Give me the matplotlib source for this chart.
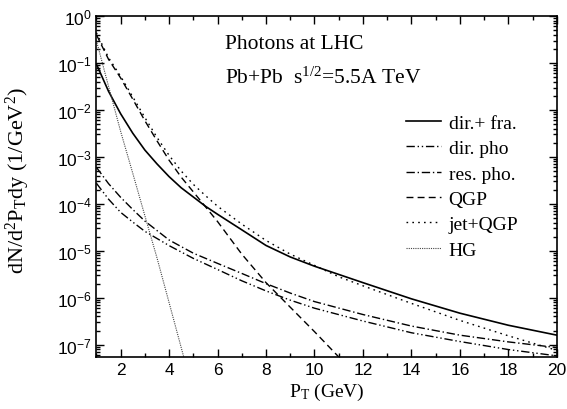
import matplotlib
matplotlib.use('Agg')
import matplotlib.pyplot as plt
from matplotlib.ticker import MultipleLocator, LogLocator, NullFormatter

plt.rcParams['font.family'] = ['Liberation Serif', 'DejaVu Serif']
plt.rcParams['mathtext.fontset'] = 'custom'
plt.rcParams['mathtext.rm'] = 'Liberation Serif'
plt.rcParams['mathtext.it'] = 'Liberation Serif:italic'

# dir. + fragmentation photons
pt_dirfra = [1, 1.5, 2, 2.5, 3, 3.5, 4, 4.5, 5, 5.5, 6, 7, 8, 9, 10, 12, 14, 16, 18, 20]
y_dirfra = [9.5e-2, 2.5e-2, 8.3e-3, 3.2e-3, 1.4e-3, 7.1e-4, 3.8e-4, 2.2e-4, 1.4e-4, 8.9e-5,
            6.0e-5, 2.8e-5, 1.3e-5, 7.4e-6, 4.7e-6, 2.1e-6, 9.5e-7, 4.7e-7, 2.6e-7, 1.6e-7]

# direct and resonance photons
pt_pho = [1, 1.5, 2, 2.5, 3, 4, 5, 6, 7, 8, 9, 10, 12, 14, 16, 18, 20]
y_dirpho = [2.75e-4, 1.26e-4, 6.6e-5, 4.1e-5, 2.6e-5, 1.29e-5, 6.9e-6, 4.0e-6, 2.3e-6, 1.4e-6,
            8.9e-7, 6.0e-7, 3.2e-7, 1.8e-7, 1.17e-7, 7.9e-8, 5.8e-8]
y_respho = [6.0e-4, 2.7e-4, 1.38e-4, 7.6e-5, 4.3e-5, 1.7e-5, 8.9e-6, 5.4e-6, 3.3e-6, 2.0e-6,
            1.26e-6, 8.3e-7, 4.4e-7, 2.5e-7, 1.6e-7, 1.15e-7, 8.7e-8]

# thermal QGP
pt_qgp = [1, 1.5, 2, 2.5, 3, 3.5, 4, 4.5, 5, 5.5, 6, 7, 8, 9, 10, 11]
y_qgp = [0.40, 0.12, 0.048, 0.017, 5.9e-3, 2.2e-3, 8.5e-4, 3.7e-4, 1.8e-4, 8.7e-5, 4.2e-5,
         8.5e-6, 2.1e-6, 6.3e-7, 1.9e-7, 5.5e-8]

# jet + QGP
pt_jet = [1, 1.5, 2, 2.5, 3, 3.5, 4, 4.5, 5, 5.5, 6, 7, 8, 9, 10, 11, 12, 14, 16, 18, 20]
y_jet = [0.44, 0.13, 0.052, 0.019, 6.9e-3, 2.6e-3, 1.08e-3, 5.0e-4, 2.6e-4, 1.5e-4, 8.9e-5,
         3.7e-5, 1.66e-5, 8.5e-6, 4.9e-6, 2.8e-6, 1.8e-6, 7.6e-7, 3.3e-7, 1.55e-7, 7.6e-8]

# hadron gas
pt_hg = [1, 1.5, 2, 2.5, 3, 3.5, 4, 4.6]
y_hg = [0.30, 3.2e-2, 3.5e-3, 4.5e-4, 5.6e-5, 7.1e-6, 7.9e-7, 5.6e-8]

# axis ticks
x_ticks = [2, 4, 6, 8, 10, 12, 14, 16, 18, 20]
y_ticks = [1e-7, 1e-6, 1e-5, 1e-4, 1e-3, 1e-2, 1e-1, 1]

fig = plt.figure(figsize=(5.67, 4.10), dpi=100)
ax = fig.add_axes([0.170, 0.127, 0.812, 0.8315])

ax.plot(pt_dirfra, y_dirfra, color='black', lw=1.2, label='dir.+ fra.')
ax.plot(pt_pho, y_dirpho, color='black', lw=1.0, ls=(0, (6, 2, 1, 2, 1, 2)), label='dir. pho')
ax.plot(pt_pho, y_respho, color='black', lw=1.0, ls=(0, (6, 2, 1, 2)), label='res. pho.')
ax.plot(pt_qgp, y_qgp, color='black', lw=1.0, ls=(0, (5, 3)), label='QGP')
ax.plot(pt_jet, y_jet, color='black', lw=1.0, ls=(0, (1.2, 3)), label='jet+QGP')
ax.plot(pt_hg, y_hg, color='#444444', lw=0.8, ls=(0, (1, 1)), label='HG')

ax.set_yscale('log')
ax.set_xlim(1, 20)
ax.set_ylim(5.5e-8, 1)
ax.set_xticks(x_ticks)
ax.set_yticks(y_ticks)
ax.xaxis.set_minor_locator(MultipleLocator(1))
ax.yaxis.set_minor_locator(LogLocator(base=10, subs=range(2, 10), numticks=20))
ax.yaxis.set_minor_formatter(NullFormatter())
ax.tick_params(which='both', direction='in', top=True, right=True, width=1)
ax.tick_params(which='major', length=6, labelsize=12.5)
ax.tick_params(which='minor', length=3)
for lab in ax.get_xticklabels() + ax.get_yticklabels():
    lab.set_fontfamily('Liberation Sans')
for sp in ax.spines.values():
    sp.set_linewidth(1.2)

ax.set_xlabel(r'P$_\mathrm{T}$ (GeV)', fontsize=14, labelpad=3)
ax.set_ylabel(r'dN/d$^2$P$_\mathrm{T}$dy (1/GeV$^2$)', fontsize=16)
ax.yaxis.set_label_coords(-0.14, 0.52)

ax.text(0.279, 0.918, 'Photons at LHC', transform=ax.transAxes, fontsize=15.5, va='center')
ax.text(0.279, 0.82, r'Pb+Pb  s$^{1/2}$=5.5A TeV', transform=ax.transAxes, fontsize=15.5, va='center')

ax.legend(loc='upper left', bbox_to_anchor=(0.655, 0.735), frameon=False, fontsize=14,
          handlelength=1.8, handletextpad=0.4, labelspacing=0.4, borderaxespad=0)

fig.savefig('out.png', dpi=100)
